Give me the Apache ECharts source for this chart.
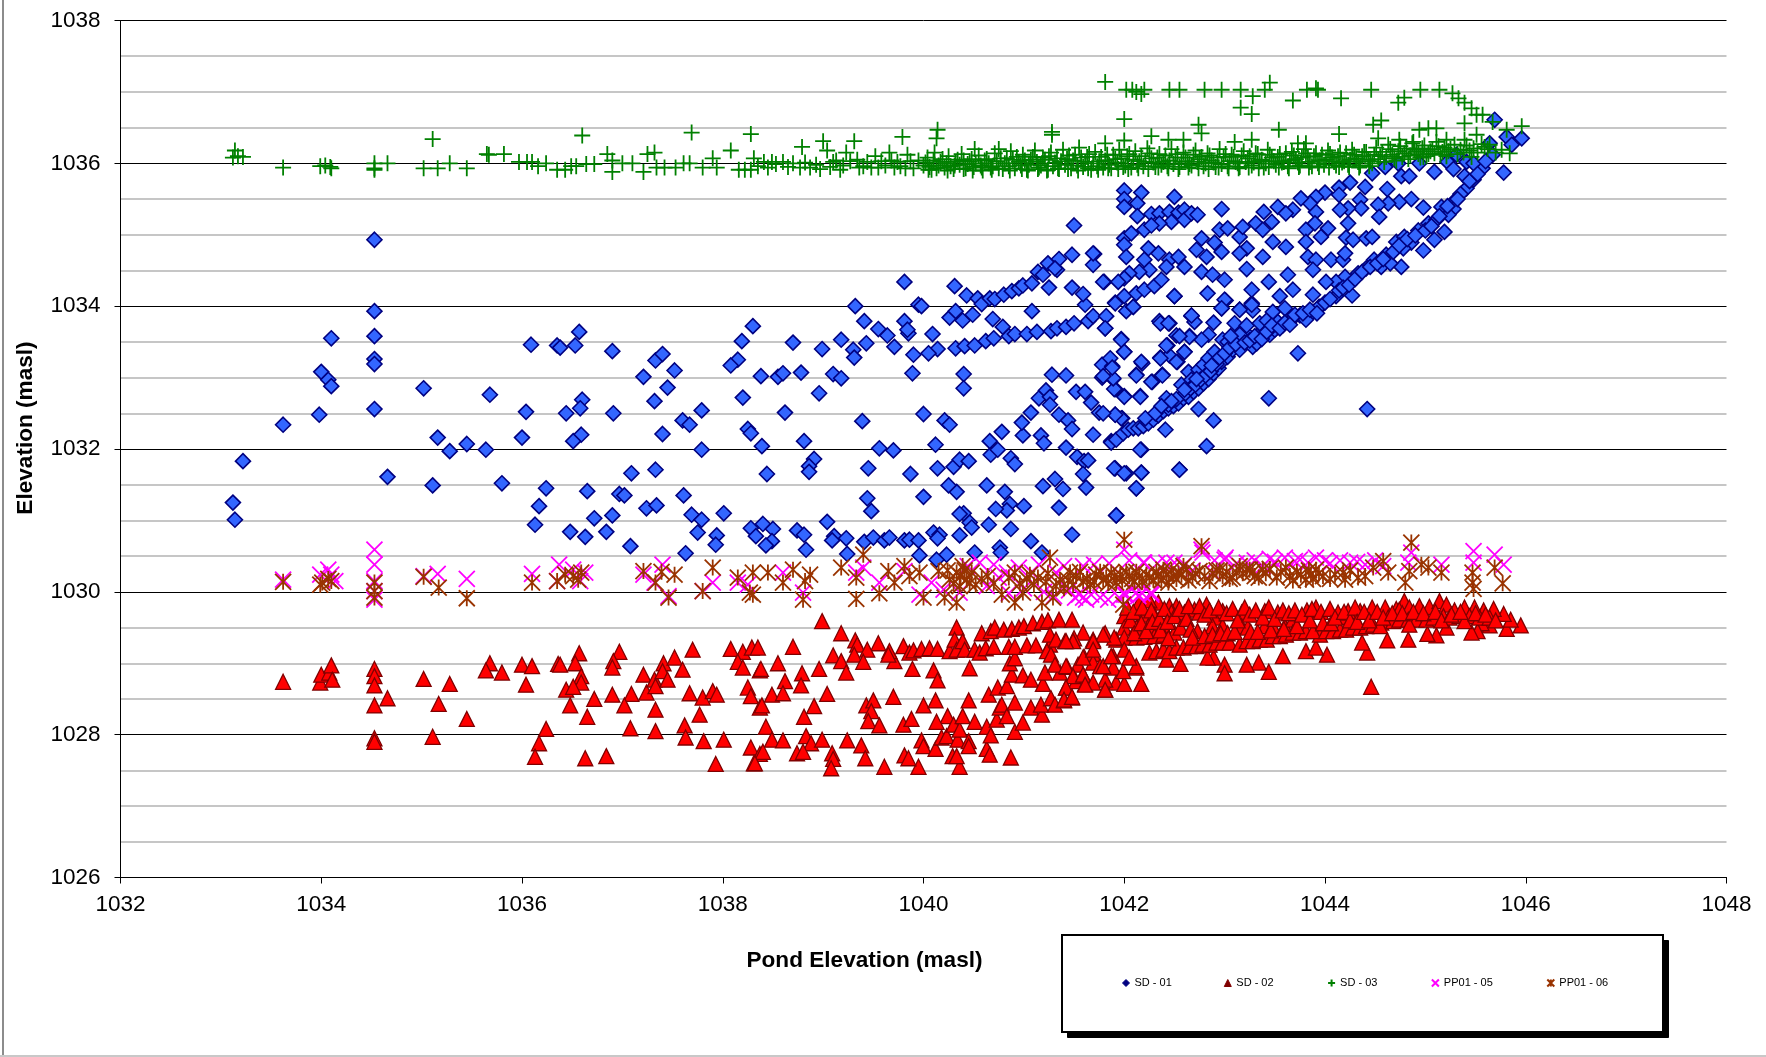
<!DOCTYPE html>
<html><head><meta charset="utf-8">
<style>html,body{margin:0;padding:0;background:#fff}#c{width:1766px;height:1057px}</style>
<script src="https://cdn.jsdelivr.net/npm/echarts@6/dist/echarts.min.js"></script>
</head><body><div id="c"></div>
<script>
const sd01 = [[1034.53,1034.93],[1034.53,1033.93],[1034.10,1033.55],[1034.53,1033.58],[1034.53,1033.26],[1034.53,1033.19],[1034.00,1033.08],[1034.07,1032.97],[1034.10,1032.88],[1035.02,1032.85],[1035.68,1032.76],[1034.53,1032.56],[1033.98,1032.48],[1033.62,1032.34],[1036.04,1032.52],[1035.16,1032.16],[1035.28,1031.97],[1035.45,1032.07],[1035.64,1031.99],[1036.00,1032.16],[1033.22,1031.83],[1034.66,1031.61],[1035.11,1031.49],[1035.80,1031.52],[1033.12,1031.25],[1033.14,1031.01],[1036.09,1033.46],[1036.35,1033.45],[1036.38,1033.42],[1036.53,1033.45],[1036.57,1033.64],[1036.90,1033.37],[1037.21,1033.01],[1037.33,1033.24],[1037.40,1033.33],[1037.52,1033.10],[1037.45,1032.86],[1037.32,1032.67],[1036.60,1032.69],[1036.58,1032.57],[1036.44,1032.50],[1036.91,1032.50],[1036.59,1032.20],[1036.51,1032.11],[1037.60,1032.40],[1037.67,1032.34],[1037.40,1032.21],[1037.79,1032.54],[1037.79,1031.99],[1037.09,1031.66],[1037.33,1031.71],[1036.24,1031.45],[1036.65,1031.41],[1036.97,1031.37],[1037.02,1031.35],[1036.17,1031.20],[1036.13,1030.94],[1037.24,1031.17],[1037.34,1031.21],[1037.61,1031.35],[1036.90,1031.07],[1036.72,1031.03],[1037.69,1031.08],[1037.79,1031.01],[1036.48,1030.84],[1036.63,1030.77],[1036.84,1030.84],[1037.75,1030.83],[1037.08,1030.64],[1037.63,1030.54],
[1038.30,1033.72],[1038.19,1033.51],[1038.15,1033.25],[1038.08,1033.17],[1038.38,1033.02],[1038.55,1033.01],[1038.60,1033.06],[1038.78,1033.07],[1038.70,1033.49],[1038.99,1033.40],[1039.18,1033.53],[1039.30,1033.39],[1039.31,1033.28],[1039.10,1033.05],[1039.18,1032.99],[1038.96,1032.78],[1038.20,1032.72],[1038.62,1032.51],[1038.25,1032.28],[1038.28,1032.22],[1038.39,1032.04],[1038.81,1032.11],[1038.91,1031.86],[1038.86,1031.76],[1038.86,1031.68],[1038.44,1031.65],[1038.01,1031.10],[1037.94,1030.79],[1037.93,1030.66],[1038.28,1030.89],[1038.33,1030.78],[1038.40,1030.95],[1038.50,1030.88],[1038.49,1030.71],[1038.43,1030.65],[1038.74,1030.86],[1038.81,1030.80],[1038.83,1030.59],[1039.04,1030.98],[1039.11,1030.78],[1039.09,1030.72],[1039.23,1030.75],[1039.24,1030.53],[1039.41,1030.70],[1039.50,1030.76],[1039.61,1030.72],[1039.66,1030.76],[1039.81,1030.72],[1039.86,1030.73],[1039.95,1030.72],[1040.10,1030.83],[1040.16,1030.80],[1040.14,1030.75],[1040.36,1030.79],[1040.46,1030.97],[1040.48,1030.90],[1040.40,1031.10],[1040.36,1031.09],[1040.65,1030.94],[1040.87,1030.88],[1041.07,1030.71],[1040.76,1030.62],[1040.77,1030.55],[1040.51,1030.55],[1040.23,1030.52],[1039.96,1030.51],[1040.13,1030.45],[1041.18,1030.55],[1041.48,1030.80],[1041.92,1031.07],[1041.35,1031.18],[1041.00,1031.20],[1040.86,1031.23],[1040.83,1031.14],[1040.72,1031.16],[1040.81,1031.40],[1040.63,1031.49],[1040.33,1031.40],[1040.25,1031.49],[1040.00,1031.33],[1039.87,1031.65],[1039.45,1031.73],[1039.44,1031.31],[1039.48,1031.13],[1039.56,1032.01],[1039.70,1031.98],[1039.39,1032.39],[1040.00,1032.49],[1040.21,1032.40],[1040.26,1032.34],[1040.12,1032.06],[1040.14,1031.73],[1040.30,1031.75],[1040.36,1031.85],[1040.45,1031.83],[1040.67,1031.92],[1040.74,1031.99],[1040.66,1032.11],[1040.78,1032.24],[1040.99,1032.19],[1040.98,1032.37],[1041.07,1032.51],[1041.15,1032.71],[1041.22,1032.82],[1041.26,1032.73],[1041.26,1032.62],[1041.35,1032.48],[1041.44,1032.40],[1041.48,1032.28],[1041.17,1032.19],[1041.20,1032.08],[1041.42,1032.02],[1041.53,1031.89],[1041.60,1031.83],[1041.64,1031.84],[1041.59,1031.65],[1041.62,1031.46],[1041.31,1031.58],[1041.39,1031.44],[1041.19,1031.48],[1040.87,1031.87],[1040.91,1031.79],[1041.69,1032.20],[1041.28,1033.04],[1041.42,1033.03],[1041.52,1032.80],[1041.61,1032.80],[1041.67,1032.65],[1041.75,1032.51],[1041.91,1032.48],[1041.98,1032.43],[1041.91,1031.73],[1042.02,1031.66],[1042.17,1031.67],[1042.12,1031.45],[1042.17,1031.99],[1042.55,1031.71],[1041.87,1032.11],[1042.00,1032.74],[1042.16,1032.74],[1041.91,1032.84],[1042.28,1032.94],[1042.38,1033.04],[1042.12,1033.04],[1041.89,1032.98],[1041.78,1033.00],[1041.78,1033.18],[1041.88,1033.16],[1041.86,1033.27],[1042.18,1033.20],[1042.36,1033.28],[1042.53,1033.22],[1042.60,1033.36],[1042.45,1033.31],[1042.43,1033.45],[1041.97,1033.54],[1042.00,1033.36],[1041.81,1033.69],[1041.64,1033.79],[1041.69,1033.86],[1041.82,1033.86],[1041.61,1034.02],[1041.59,1034.17],[1041.48,1034.26],[1041.25,1034.26],[1041.80,1034.34],[1041.91,1034.05],[1042.02,1033.93],[1042.09,1033.99],[1042.50,1034.14],[1042.35,1033.79],[1042.45,1033.76],[1042.67,1033.86],[1042.52,1033.59],[1042.65,1033.58],
[1040.31,1034.28],[1040.43,1034.15],[1040.54,1034.11],[1040.58,1034.03],[1040.66,1034.11],[1040.71,1034.10],[1040.80,1034.16],[1040.88,1034.21],[1040.95,1034.25],[1040.99,1034.29],[1041.08,1034.32],[1041.14,1034.48],[1041.19,1034.44],[1041.24,1034.60],[1041.33,1034.51],[1041.35,1034.66],[1041.48,1034.72],[1041.70,1034.73],[1041.69,1034.58],[1041.50,1035.13],[1040.32,1033.41],[1040.41,1033.44],[1040.51,1033.45],[1040.62,1033.51],[1040.70,1033.55],[1040.79,1033.71],[1040.85,1033.58],[1040.91,1033.61],[1041.03,1033.61],[1041.13,1033.64],[1041.27,1033.65],[1041.33,1033.69],[1041.42,1033.71],[1041.50,1033.76],[1040.69,1033.82],[1041.08,1033.93],[1040.26,1033.84],[1040.32,1033.93],[1040.39,1033.80],[1040.49,1033.88],[1039.81,1034.34],[1039.95,1034.02],[1039.98,1034.00],[1039.32,1034.00],[1039.41,1033.79],[1039.55,1033.68],[1039.64,1033.59],[1039.43,1033.48],[1039.71,1033.43],[1039.81,1033.79],[1039.85,1033.62],[1039.84,1033.67],[1040.09,1033.61],[1040.14,1033.40],[1040.05,1033.34],[1039.90,1033.32],[1039.89,1033.06],[1040.40,1033.05],[1040.40,1032.85],
[1041.87,1032.09],[1041.92,1032.13],[1041.99,1032.22],[1042.04,1032.27],[1042.09,1032.29],[1042.14,1032.29],[1042.19,1032.32],[1042.24,1032.36],[1042.29,1032.41],[1042.34,1032.47],[1042.39,1032.53],[1042.44,1032.57],[1042.49,1032.60],[1042.54,1032.64],[1042.59,1032.71],[1042.64,1032.73],[1042.69,1032.80],[1042.74,1032.85],[1042.79,1032.92],[1042.84,1032.98],[1042.89,1033.06],[1042.94,1033.13],[1042.97,1033.22],[1043.03,1033.29],[1043.08,1033.39],[1043.15,1033.39],[1043.18,1033.53],[1043.23,1033.60],[1043.28,1033.43],[1043.32,1033.48],[1043.35,1033.62],[1043.40,1033.69],[1043.45,1033.60],[1043.50,1033.67],[1043.53,1033.78],[1043.58,1033.73],[1043.63,1033.80],[1043.68,1033.83],[1043.75,1033.87],[1043.81,1033.83],[1043.88,1033.92],[1043.95,1033.99],[1042.57,1032.90],[1042.64,1033.08],[1042.67,1032.97],[1042.74,1033.11],[1042.79,1033.18],[1042.84,1033.27],[1042.90,1033.36],[1042.98,1033.53],[1043.03,1033.50],[1043.10,1033.76],[1043.15,1033.60],[1043.22,1033.73],[1043.35,1033.76],[1043.42,1033.80],[1043.48,1033.92],[1043.60,1033.97],[1043.73,1033.34],[1043.44,1032.71],[1044.42,1032.56],[1042.74,1032.56],[1042.89,1032.40],[1042.82,1032.04],[1042.55,1031.71],[1042.89,1033.77],[1042.70,1033.78],[1042.67,1033.87],[1043.15,1033.95],[1043.28,1033.94],[1042.97,1033.97],[1043.01,1034.08],[1043.27,1034.04],[1042.84,1033.60],[1042.77,1033.53],[1042.65,1033.57],[1042.55,1033.58],[1042.60,1033.36],[1042.52,1033.22],[1042.36,1033.27],[1042.42,1033.45],[1042.27,1032.94],[1042.38,1033.03],[1042.17,1033.22],[1042.12,1033.03],[1042.16,1032.73],[1042.00,1032.73],[1042.42,1032.71],[1042.41,1032.27],[1042.16,1031.99],[1042.17,1031.67],[1041.90,1031.73],[1042.00,1031.66],[1042.12,1031.45],[1041.92,1031.07],[1041.97,1032.43],[1041.91,1032.48],[1041.79,1032.50],[1041.90,1032.84],[1041.89,1032.99],[1041.79,1033.02],[1041.88,1033.14],[1042.00,1033.36],[1041.97,1033.53],[1041.81,1033.69],[1042.36,1033.76],[1042.44,1033.76],
[1045.69,1036.61],[1045.81,1036.37],[1045.96,1036.35],[1045.86,1036.26],[1045.78,1035.87],[1045.64,1036.28],[1045.67,1036.12],[1045.57,1035.93],[1045.48,1035.77],[1045.39,1035.82],[1045.41,1035.65],[1045.35,1035.57],[1045.28,1035.46],[1045.28,1035.36],[1045.23,1035.28],[1045.19,1035.04],[1045.09,1034.93],[1044.98,1034.78],[1044.93,1035.06],[1044.86,1034.89],[1044.76,1034.55],[1044.61,1034.72],[1044.56,1034.55],[1044.49,1034.65],[1044.41,1034.53],[1044.33,1034.46],[1044.27,1034.15],[1044.20,1034.41],[1044.11,1034.34],[1044.11,1034.14],[1044.01,1034.34],[1043.94,1033.99],[1043.88,1034.16],[1043.81,1033.81],[1044.71,1034.90],[1044.79,1034.97],[1044.78,1034.81],[1044.65,1034.60],[1045.03,1035.16],[1045.11,1035.21],[1045.16,1035.39],[1044.98,1035.38],[1044.86,1035.50],[1044.74,1035.46],[1044.63,1035.44],[1044.53,1035.42],[1044.54,1035.25],[1044.62,1035.64],[1044.40,1035.67],[1044.35,1035.49],[1044.36,1035.37],[1044.23,1035.37],[1044.15,1035.35],[1044.23,1035.16],[1044.21,1034.96],[1044.28,1034.93],[1044.41,1034.95],[1044.47,1034.97],[1044.25,1035.73],[1044.14,1035.66],[1044.14,1035.56],[1044.00,1035.59],[1043.91,1035.53],[1043.91,1035.32],[1043.85,1035.44],[1043.68,1035.35],[1043.76,1035.51],[1043.53,1035.39],[1043.39,1035.32],[1043.31,1035.16],[1043.15,1034.97],[1042.95,1035.07],[1043.03,1035.09],[1043.18,1035.11],[1043.38,1035.07],[1043.47,1035.18],[1043.61,1035.30],[1043.81,1035.07],[1043.90,1035.16],[1044.03,1035.09],[1043.96,1034.97],[1043.81,1034.90],[1043.61,1034.83],[1043.48,1034.90],[1043.38,1034.69],[1043.22,1034.81],[1043.15,1034.74],[1042.97,1034.76],[1042.82,1034.69],[1042.72,1034.79],[1042.77,1034.95],[1042.90,1034.89],[1042.60,1034.55],[1042.45,1034.65],[1042.54,1034.69],[1042.34,1034.74],[1042.42,1034.55],[1042.24,1034.81],[1042.20,1035.07],[1042.00,1034.95],[1042.07,1035.02],[1042.00,1034.86],[1042.02,1034.69],[1042.20,1034.65],[1042.25,1034.51],[1042.15,1034.48],[1042.05,1034.46],[1042.00,1034.39],[1041.94,1034.34],[1041.79,1034.34],[1041.69,1034.74],[1041.31,1034.53],[1042.00,1035.62],[1042.00,1035.50],[1042.00,1035.39],[1042.17,1035.59],[1042.13,1035.44],[1042.13,1035.26],[1042.27,1035.29],[1042.35,1035.30],[1042.45,1035.32],[1042.50,1035.53],[1042.47,1035.18],[1042.35,1035.16],[1042.27,1035.13],[1042.54,1035.31],[1042.60,1035.35],[1042.60,1035.21],[1042.67,1035.30],[1042.73,1035.28],[1042.97,1035.36],[1042.00,1034.14],[1041.91,1034.04],[1042.09,1033.99],[1042.12,1034.18],[1042.20,1034.23],[1042.30,1034.28],[1042.37,1034.37],[1042.50,1034.14],[1042.83,1034.18],[1043.00,1034.09],[1042.97,1033.97],[1042.77,1034.48],[1042.88,1034.44],[1043.00,1034.37],[1043.27,1034.23],[1043.44,1034.34],[1043.63,1034.44],[1043.68,1034.23],[1043.55,1034.14],[1043.22,1034.52],[1043.15,1033.95],[1043.27,1034.02],[1043.83,1034.69],[1043.91,1034.65],[1043.88,1034.51],[1044.06,1034.65],[1044.18,1034.65],[1044.20,1034.74],[1045.31,1036.12],[1045.41,1036.02],[1045.22,1036.02],[1045.28,1035.92],[1045.09,1035.88],[1044.94,1036.00],[1044.73,1036.00],[1044.76,1035.82],[1044.84,1035.82],[1044.60,1035.95],[1044.47,1035.86],[1045.48,1036.00],
[1042.44,1032.62],[1042.52,1032.70],[1042.61,1032.78],[1042.66,1032.85],[1042.71,1032.90],[1042.76,1032.97],[1042.81,1033.03],[1042.86,1033.09],[1042.92,1033.19],[1042.95,1033.28],[1043.00,1033.34],[1043.05,1033.42],[1043.11,1033.47],[1043.20,1033.49],[1043.25,1033.52],[1043.30,1033.58],[1043.37,1033.54],[1043.42,1033.64],[1043.47,1033.73],[1043.55,1033.69],[1043.60,1033.77],[1043.65,1033.74],[1043.70,1033.88],[1043.78,1033.90],[1043.85,1033.95],[1043.92,1033.90],[1044.00,1034.05],[1044.05,1034.10],[1044.14,1034.22],[1044.18,1034.26],[1044.24,1034.30],[1044.30,1034.38],[1044.37,1034.48],[1044.45,1034.55],[1044.52,1034.60],[1044.58,1034.66],[1044.68,1034.76],[1044.74,1034.85],[1044.82,1034.94],[1044.90,1034.99],[1045.00,1035.06],[1045.06,1035.12],[1045.14,1035.26],[1045.22,1035.40],[1045.32,1035.50],[1045.44,1035.75],[1045.52,1035.85],[1045.60,1036.03],[1042.21,1032.43],[1042.31,1032.50],[1042.37,1032.60],[1042.47,1032.67],[1042.60,1032.83],[1042.72,1032.98],[1042.87,1033.17],[1043.06,1033.58]];
const sd02 = [[1033.62,1028.74],[1033.99,1028.73],[1034.00,1028.84],[1034.08,1028.87],[1034.10,1028.97],[1034.11,1028.77],[1034.53,1028.92],[1034.53,1028.82],[1034.53,1028.69],[1034.66,1028.51],[1034.53,1028.41],[1034.53,1027.95],[1034.53,1027.90],[1035.02,1028.78],[1035.28,1028.71],[1035.17,1028.43],[1035.45,1028.22],[1035.11,1027.97],[1035.68,1029.00],[1035.64,1028.90],[1035.80,1028.87],[1036.00,1028.98],[1036.10,1028.96],[1036.04,1028.70],[1036.36,1028.99],[1036.38,1028.98],[1036.57,1029.14],[1036.53,1029.00],[1036.59,1028.82],[1036.59,1028.73],[1036.44,1028.63],[1036.51,1028.67],[1036.48,1028.41],[1036.72,1028.50],[1036.65,1028.25],[1036.24,1028.08],[1036.17,1027.88],[1036.13,1027.69],[1036.63,1027.67],[1036.84,1027.70],[1036.97,1029.16],[1036.91,1029.03],[1036.90,1028.94],[1036.90,1028.56],[1037.09,1028.57],[1037.02,1028.41],[1037.08,1028.09],[1037.24,1028.59],[1037.33,1028.35],[1037.33,1028.05],[1037.21,1028.84],[1037.32,1028.77],[1037.33,1028.68],[1037.41,1029.00],[1037.40,1028.89],[1037.45,1028.77],[1037.52,1029.08],[1037.60,1028.91],[1037.70,1029.19],[1037.67,1028.58],[1037.80,1028.52],[1037.90,1028.61],[1037.94,1028.56],[1037.77,1028.28],[1037.62,1028.13],[1037.63,1027.96],[1037.81,1027.91],[1038.01,1027.93],[1037.93,1027.59],[1038.08,1029.20],[1038.20,1029.16],[1038.15,1029.02],[1038.20,1028.94],[1038.29,1029.22],[1038.35,1029.22],[1038.37,1028.90],[1038.25,1028.66],[1038.28,1028.54],[1038.37,1028.38],[1038.28,1027.82],[1038.31,1027.60],[1038.37,1027.73],
[1038.99,1029.59],[1039.18,1029.42],[1038.70,1029.23],[1039.32,1029.32],[1039.34,1029.26],[1039.55,1029.28],[1039.44,1029.19],[1039.31,1029.12],[1039.10,1029.11],[1039.18,1029.03],[1039.40,1029.02],[1039.23,1028.87],[1038.96,1028.92],[1038.79,1028.86],[1038.55,1029.00],[1038.38,1028.92],[1038.62,1028.75],[1038.78,1028.69],[1038.49,1028.56],[1038.60,1028.58],[1039.04,1028.57],[1038.39,1028.41],[1038.91,1028.40],[1038.81,1028.25],[1038.43,1028.11],[1038.49,1027.93],[1038.60,1027.92],[1038.83,1027.98],[1038.88,1027.88],[1038.99,1027.93],[1039.24,1027.92],[1039.38,1027.85],[1038.74,1027.74],[1038.80,1027.76],[1038.40,1027.76],[1038.32,1027.60],[1039.09,1027.74],[1039.10,1027.66],[1039.08,1027.53],[1039.42,1027.67],[1039.61,1027.55],[1039.95,1027.55],[1040.36,1027.55],[1039.43,1028.41],[1039.50,1028.48],[1039.48,1028.33],[1039.45,1028.19],[1039.56,1028.13],[1039.70,1028.53],[1039.80,1028.14],[1039.88,1028.22],[1040.00,1028.41],[1040.12,1028.48],[1040.24,1028.26],[1040.13,1028.18],[1039.98,1027.92],[1040.00,1027.84],[1040.12,1027.80],[1040.18,1027.96],[1040.23,1027.98],[1040.30,1028.14],[1040.34,1027.93],[1040.36,1028.07],[1040.39,1028.26],[1040.45,1028.48],[1040.45,1027.91],[1040.45,1027.84],[1040.51,1028.18],[1039.81,1027.71],[1039.85,1027.67],[1040.29,1027.70],[1040.33,1027.70],[1040.63,1027.80],[1040.66,1027.72],[1040.87,1027.68],[1040.63,1028.11],[1040.67,1027.99],[1040.73,1028.21],[1040.76,1028.38],[1040.78,1028.42],[1040.83,1028.26],[1040.91,1028.04],[1040.99,1028.17],[1040.91,1028.45],[1041.07,1028.38],[1041.18,1028.28],[1041.17,1028.42],[1041.27,1028.51],[1041.31,1028.42],[1041.40,1028.48],[1041.48,1028.52],[1040.65,1028.56],[1040.74,1028.66],[1040.83,1028.68],[1040.88,1028.84],[1040.99,1028.83],[1041.07,1028.77],[1041.19,1028.71],[1041.21,1028.87],[1041.36,1028.87],[1041.43,1028.95],[1041.42,1028.66],[1041.52,1028.75],[1041.61,1028.71],[1041.59,1028.84],[1041.81,1028.63],[1041.92,1028.73],[1042.00,1028.71],[1042.17,1028.71],[1041.81,1028.77],[1040.86,1029.00],[1040.91,1029.07],[1040.46,1028.93],[1040.10,1028.90],[1040.14,1028.76],[1039.89,1028.92],[1039.71,1029.03],[1039.66,1029.17],[1039.65,1029.12],[1039.80,1029.24],[1039.86,1029.15],[1039.90,1029.18],[1039.98,1029.20],[1040.06,1029.21],[1040.14,1029.20],[1040.26,1029.17],[1040.33,1029.50],[1040.31,1029.33],[1040.33,1029.19],[1040.39,1029.31],[1040.41,1029.19],[1040.51,1029.19],[1040.56,1029.15],[1040.62,1029.21],[1040.70,1029.23],[1040.85,1029.23],[1040.91,1029.23],[1041.03,1029.25],[1041.12,1029.25],[1041.26,1029.26],[1041.23,1029.17],[1041.27,1029.12],[1040.58,1029.42],[1040.67,1029.45],[1040.71,1029.50],[1040.80,1029.47],[1040.88,1029.48],[1040.95,1029.50],[1041.00,1029.52],[1041.09,1029.56],[1041.18,1029.58],[1041.24,1029.60],[1041.35,1029.61],[1041.48,1029.61],[1041.59,1029.43],[1041.26,1029.40],[1041.32,1029.33],[1041.41,1029.31],[1041.50,1029.35],[1041.69,1029.33],[1041.81,1029.42],[1041.60,1029.09],[1041.69,1029.13],[1041.69,1029.01],[1041.76,1028.96],[1041.31,1028.98],[1041.54,1028.98],[1041.89,1029.10],[1041.89,1028.94],[1041.99,1028.89],[1042.12,1028.94],[1041.92,1029.33],[1042.00,1029.66],[1042.00,1029.50],[1042.00,1029.36],[1042.00,1029.19],
[1044.46,1028.67],[1045.95,1029.53],[1045.81,1029.48],[1045.85,1029.61],[1045.78,1029.69],[1045.68,1029.76],[1045.58,1029.74],[1045.64,1029.53],[1045.56,1029.56],[1045.52,1029.45],[1045.46,1029.43],[1045.49,1029.78],[1045.39,1029.78],[1045.21,1029.50],[1045.11,1029.39],[1045.02,1029.41],[1044.83,1029.33],[1044.62,1029.32],[1044.42,1029.15],[1044.02,1029.12],[1044.37,1029.29],[1043.44,1028.88],[1043.34,1029.01],[1043.22,1028.98],[1043.00,1028.98],[1043.00,1028.86],[1042.56,1028.99],[1041.81,1028.63],[1043.58,1029.10],[1043.81,1029.17],[1043.91,1029.22],[1042.89,1029.08],[1042.83,1029.08],[1042.42,1029.05],[1044.79,1029.87],[1044.84,1029.78],[1044.93,1029.68],[1044.94,1029.80],[1045.04,1029.79],[1045.14,1029.87],[1045.21,1029.82],[1045.29,1029.74],[1045.18,1029.66],[1044.71,1029.76],[1044.60,1029.78],[1044.63,1029.64],[1044.56,1029.57],[1044.47,1029.78],[1044.35,1029.73],[1044.23,1029.73],[1044.16,1029.65],[1044.13,1029.71],[1043.91,1029.78],[1043.82,1029.74],[1043.53,1029.71],[1043.40,1029.73],[1043.17,1029.71],[1042.98,1029.73],[1042.90,1029.64],[1042.82,1029.82],[1042.70,1029.75],[1042.60,1029.71],[1042.52,1029.80],[1042.45,1029.80],[1042.34,1029.85],[1042.25,1029.88],[1042.15,1029.85],[1042.20,1029.68],[1042.30,1029.68],[1042.47,1029.71],[1042.12,1029.50],[1042.24,1029.52],[1042.39,1029.52],[1042.50,1029.43],[1041.90,1029.36],[1042.12,1029.36],[1042.20,1029.37],[1042.30,1029.38],[1042.39,1029.40],[1042.73,1029.45],[1043.17,1029.52],[1043.23,1029.50],[1043.40,1029.52],[1043.48,1029.52],[1043.60,1029.52],[1043.68,1029.61],[1043.95,1029.40],[1042.12,1028.96],[1042.05,1029.08],[1042.25,1029.15],[1042.32,1029.17],[1042.39,1029.19],[1042.45,1029.17],[1042.52,1029.22],[1042.59,1029.22],[1042.65,1029.24],[1042.72,1029.24],[1042.78,1029.26],[1042.85,1029.26],[1042.92,1029.29],[1042.98,1029.29],[1043.05,1029.29],[1043.15,1029.26],[1043.22,1029.31],[1043.28,1029.31],[1043.35,1029.33],[1043.42,1029.33],[1043.48,1029.38],[1043.55,1029.38],[1043.61,1029.40],[1043.68,1029.43],[1043.75,1029.43],[1043.81,1029.45],[1043.88,1029.45],[1044.01,1029.45],[1044.08,1029.45],[1044.15,1029.47],[1044.21,1029.47],[1044.28,1029.50],[1044.35,1029.50],[1044.41,1029.52],[1044.48,1029.54],[1044.55,1029.52],[1044.68,1029.59],[1044.74,1029.61],[1044.83,1029.61],[1044.91,1029.61],[1045.01,1029.61],[1045.08,1029.64],[1045.24,1029.64],[1045.34,1029.66],[1045.44,1029.66],[1045.54,1029.64],[1045.64,1029.64],[1041.79,1029.40],[1041.69,1029.31],[1041.49,1029.31],[1041.42,1029.31],[1041.79,1028.96],[1041.87,1029.10],[1041.59,1029.08],[1041.69,1029.19],[1041.42,1028.96],[1041.49,1028.82],[1041.59,1028.84],[1041.69,1028.73],[1041.61,1028.70],[1041.42,1028.66],[1041.40,1028.49],[1041.48,1028.53],[1045.39,1029.59],[1044.84,1029.54],[1044.74,1029.75],[1042.88,1029.52],[1042.75,1029.71],[1042.98,1029.52],
[1042.03,1029.78],[1042.06,1029.60],[1042.09,1029.72],[1042.10,1029.42],[1042.18,1029.78],[1042.17,1029.56],[1042.22,1029.45],[1042.27,1029.74],[1042.28,1029.58],[1042.35,1029.62],[1042.36,1029.46],[1042.40,1029.76],[1042.43,1029.58],[1042.44,1029.35],[1042.50,1029.66],[1042.55,1029.76],[1042.56,1029.50],[1042.62,1029.62],[1042.64,1029.80],[1042.66,1029.47],[1042.68,1029.36],[1042.75,1029.80],[1042.80,1029.68],[1042.80,1029.38],[1042.85,1029.74],[1042.88,1029.40],[1042.94,1029.78],[1042.96,1029.42],[1043.02,1029.70],[1043.03,1029.42],[1043.08,1029.76],[1043.10,1029.44],[1043.13,1029.60],[1043.20,1029.78],[1043.25,1029.68],[1043.26,1029.44],[1043.31,1029.74],[1043.33,1029.44],[1043.38,1029.64],[1043.44,1029.78],[1043.46,1029.46],[1043.50,1029.62],[1043.58,1029.74],[1043.59,1029.48],[1043.64,1029.70],[1043.70,1029.74],[1043.72,1029.52],[1043.77,1029.68],[1043.85,1029.60],[1043.87,1029.76],[1043.96,1029.72],[1043.98,1029.56],[1044.05,1029.76],[1044.06,1029.56],[1044.10,1029.64],[1044.19,1029.72],[1044.25,1029.60],[1044.30,1029.78],[1044.32,1029.58],[1044.39,1029.72],[1044.44,1029.60],[1044.52,1029.72],[1044.58,1029.64],[1044.67,1029.70],[1044.77,1029.70],[1044.88,1029.72],[1044.98,1029.70],[1045.10,1029.72],[1045.16,1029.60],[1045.26,1029.68],[1045.35,1029.72],[1045.50,1029.70],[1045.60,1029.68],[1045.70,1029.60]];
const sd03 = [[1033.14,1036.18],[1033.12,1036.08],[1033.17,1036.10],[1033.22,1036.09],[1033.62,1035.94],[1033.99,1035.96],[1034.04,1035.97],[1034.09,1035.95],[1034.10,1035.93],[1034.53,1036.00],[1034.53,1035.93],[1034.53,1035.91],[1034.66,1036.00],[1035.02,1035.93],[1035.16,1035.93],[1035.11,1036.34],[1035.28,1036.00],[1035.45,1035.93],[1035.65,1036.13],[1035.67,1036.12],[1035.82,1036.13],[1035.97,1036.02],[1036.05,1036.02],[1036.10,1036.02],[1036.16,1035.96],[1036.24,1036.00],[1036.35,1035.91],[1036.43,1035.91],[1036.49,1035.96],[1036.54,1035.96],[1036.60,1036.39],[1036.64,1035.99],[1036.72,1035.99],[1036.85,1036.13],[1036.90,1036.04],[1036.90,1035.88],[1037.00,1036.00],[1037.10,1036.00],[1037.21,1035.88],[1037.25,1036.13],[1037.32,1036.15],[1037.34,1035.94],[1037.42,1035.94],[1037.53,1035.94],[1037.61,1036.00],[1037.67,1036.00],[1037.69,1036.43],[1037.80,1035.94],[1037.90,1036.07],[1037.94,1035.94],[1038.08,1036.18],[1038.16,1035.91],[1038.22,1035.91],[1038.28,1036.41],[1038.28,1035.91],[1038.31,1036.07],[1038.41,1036.02],[1038.49,1036.02],[1038.60,1036.02],[1038.79,1036.23],[1038.77,1035.94],[1038.87,1035.94],[1039.00,1036.31],[1039.04,1036.18],[1039.10,1036.02],[1039.17,1035.91],[1039.23,1036.15],[1039.31,1036.31],[1039.36,1035.94],[1039.44,1036.02],[1039.52,1036.10],[1039.55,1035.94],[1039.66,1036.15],[1039.71,1035.94],[1039.79,1036.37],[1039.84,1036.12],[1040.14,1036.47],[1040.13,1036.35],[1040.11,1036.15],[1040.51,1036.20],[1040.75,1036.20],[1041.28,1036.44],
[1038.35,1035.96],[1038.45,1035.94],[1038.53,1035.99],[1038.65,1035.95],[1038.70,1036.00],[1038.82,1036.01],[1038.93,1035.98],[1038.97,1035.92],[1039.07,1035.95],[1039.13,1036.04],[1039.20,1035.97],[1039.27,1036.03],[1039.34,1036.05],[1039.40,1035.96],[1039.48,1035.94],[1039.58,1036.03],[1039.62,1035.97],[1039.68,1036.04],[1039.74,1036.02],[1039.77,1035.96],[1039.82,1035.93],[1039.87,1036.03],
[1039.90,1035.93],[1039.95,1036.04],[1040.00,1035.97],[1040.04,1036.08],[1040.08,1035.91],[1040.17,1036.02],[1040.21,1035.94],[1040.25,1036.10],[1040.30,1035.92],[1040.34,1036.05],[1040.38,1036.13],[1040.42,1035.93],[1040.46,1036.03],[1040.50,1035.95],[1040.55,1036.11],[1040.59,1035.90],[1040.63,1036.06],[1040.67,1035.94],[1040.71,1036.14],[1040.79,1035.92],[1040.83,1036.07],[1040.87,1036.17],[1040.91,1035.93],[1040.95,1036.02],[1040.99,1036.12],[1041.03,1035.91],[1041.07,1036.05],[1041.11,1036.18],[1041.15,1035.94],[1041.19,1036.08],[1041.23,1035.90],[1041.27,1036.15],[1041.31,1036.01],[1041.35,1035.92],[1041.39,1036.19],[1041.43,1036.06],[1041.47,1035.93],[1041.51,1036.12],[1041.55,1036.22],[1041.59,1035.95],[1041.63,1036.09],[1041.67,1035.91],[1041.71,1036.16],[1041.75,1036.03],[1041.79,1035.94],[1041.83,1036.12],[1041.87,1035.93],[1041.91,1036.06],[1041.95,1036.19],[1041.99,1035.95],[1042.03,1036.10],[1042.07,1035.94],[1042.11,1036.17],[1042.15,1036.03],[1042.19,1035.96],[1042.23,1036.21],[1042.27,1036.07],[1042.31,1035.95],[1042.35,1036.13],[1042.39,1036.02],[1042.43,1035.96],[1042.47,1036.20],[1042.51,1036.08],[1042.55,1035.95],[1042.59,1036.15],[1042.63,1036.03],[1042.67,1035.97],[1042.71,1036.18],[1042.75,1036.06],[1042.79,1035.96],[1042.83,1036.14],[1042.87,1036.04],[1042.91,1035.95],[1042.95,1036.20],[1042.99,1036.09],[1043.03,1035.96],[1043.07,1036.12],[1043.11,1036.02],[1043.15,1035.95],[1043.19,1036.17],[1043.23,1036.07],[1043.27,1035.97],[1043.31,1036.14],[1043.35,1036.03],[1043.39,1035.94],[1043.43,1036.19],[1043.47,1036.08],[1043.51,1035.98],[1043.55,1036.13],[1043.59,1036.02],[1043.63,1035.96],[1043.67,1036.16],[1043.71,1036.06],[1043.75,1035.97],[1043.79,1036.20],[1043.83,1036.09],[1043.87,1035.96],[1043.91,1036.14],[1043.95,1036.04],[1043.99,1035.98],[1044.03,1036.18],[1044.07,1036.08],[1044.11,1035.97],[1044.15,1036.15],[1044.19,1036.03],[1044.23,1035.98],[1044.27,1036.19],[1044.31,1036.07],[1044.35,1035.97],[1044.39,1036.16],[1044.43,1036.05],[1044.47,1036.00],[1044.51,1036.22],[1044.55,1036.10],[1044.59,1036.02],[1044.63,1036.26],[1044.67,1036.12],[1044.71,1036.04],[1044.75,1036.24],[1044.79,1036.14],[1044.83,1036.06],[1044.87,1036.28],[1044.91,1036.16],[1044.95,1036.08],[1044.99,1036.25],[1045.03,1036.13],[1045.07,1036.20],[1045.11,1036.30],[1045.15,1036.12],[1045.19,1036.22],[1045.23,1036.17],[1045.29,1036.26],[1045.35,1036.19],[1045.41,1036.25],[1045.48,1036.21],[1045.56,1036.27],[1045.62,1036.20],[1045.70,1036.15],[1045.76,1036.19],
[1040.02,1036.01],[1040.06,1035.95],[1040.10,1036.04],[1040.15,1035.97],[1040.19,1036.06],[1040.23,1036.00],[1040.27,1035.96],[1040.32,1036.02],[1040.36,1035.98],[1040.40,1036.04],[1040.44,1035.99],[1040.48,1036.06],[1040.52,1036.00],[1040.57,1035.97],[1040.61,1036.04],[1040.65,1036.00],[1040.69,1035.96],[1040.73,1036.03],[1040.77,1036.07],[1040.81,1036.00],[1040.85,1035.96],[1040.89,1036.05],[1040.93,1036.09],[1040.97,1035.97],[1041.01,1036.04],[1041.05,1035.98],[1041.09,1036.09],[1041.13,1036.02],[1041.17,1035.97],[1041.21,1036.05],[1041.25,1036.10],[1041.29,1035.96],[1041.33,1036.07],[1041.37,1036.03],[1041.41,1035.98],[1041.45,1036.11],[1041.49,1036.04],[1041.53,1035.97],[1041.57,1036.08],[1041.61,1036.02],[1041.65,1036.13],[1041.69,1036.00],[1041.73,1035.96],[1041.77,1036.09],[1041.81,1036.04],[1041.85,1035.98],[1041.89,1036.12],[1041.93,1036.01],[1041.97,1036.07],[1042.01,1035.97],[1042.05,1036.13],[1042.09,1036.05],[1042.13,1035.98],[1042.17,1036.10],[1042.21,1036.02],[1042.25,1036.14],[1042.29,1036.01],[1042.33,1036.08],[1042.37,1035.98],[1042.41,1036.11],[1042.45,1036.04],[1042.49,1035.99],[1042.53,1036.13],[1042.57,1036.02],[1042.61,1036.08],[1042.65,1035.99],[1042.69,1036.12],[1042.73,1036.02],[1042.77,1036.09],[1042.81,1036.00],[1042.85,1036.11],[1042.89,1036.01],[1042.93,1036.08],[1042.97,1035.99],[1043.01,1036.13],[1043.05,1036.03],[1043.09,1036.09],[1043.13,1036.00],[1043.17,1036.11],[1043.21,1036.02],[1043.25,1036.10],[1043.29,1036.01],[1043.33,1036.13],[1043.37,1036.05],[1043.41,1036.00],[1043.45,1036.12],[1043.49,1036.03],[1043.53,1036.09],[1043.57,1036.01],[1043.61,1036.14],[1043.65,1036.04],[1043.69,1036.11],[1043.73,1036.01],[1043.77,1036.08],[1043.81,1036.14],[1043.85,1036.02],[1043.89,1036.10],[1043.93,1036.00],[1043.97,1036.12],[1044.01,1036.05],[1044.05,1036.13],[1044.09,1036.02],[1044.13,1036.10],[1044.17,1036.01],[1044.21,1036.14],[1044.25,1036.05],[1044.29,1036.12],[1044.33,1036.02],[1044.37,1036.10],[1044.41,1036.16],[1044.45,1036.03],[1044.49,1036.12],[1044.53,1036.06],[1044.57,1036.16],[1044.61,1036.09],[1044.65,1036.20],[1044.69,1036.07],[1044.73,1036.17],[1044.77,1036.09],[1044.81,1036.21],[1044.85,1036.11],[1044.89,1036.19],[1044.93,1036.13],[1044.97,1036.21],[1045.01,1036.10],[1045.05,1036.17],[1045.09,1036.14],[1045.13,1036.24],[1045.17,1036.16],[1045.21,1036.10],[1045.25,1036.20],[1045.32,1036.13],[1045.38,1036.15],[1045.44,1036.18],[1045.52,1036.15],[1045.59,1036.23],
[1040.05,1035.91],[1040.13,1035.93],[1040.24,1035.90],[1040.31,1035.97],[1040.40,1035.92],[1040.49,1035.90],[1040.58,1035.94],[1040.68,1035.91],[1040.75,1035.93],[1040.86,1035.90],[1040.98,1035.92],[1041.04,1035.90],[1041.14,1035.92],[1041.24,1035.91],[1041.34,1035.93],[1041.44,1035.92],[1041.54,1035.90],[1041.64,1035.93],[1041.74,1035.91],[1041.84,1035.93],[1041.94,1035.92],[1042.04,1035.92],[1042.14,1035.93],[1042.24,1035.92],[1042.34,1035.94],[1042.44,1035.93],[1042.54,1035.92],[1042.64,1035.94],[1042.74,1035.93],[1042.84,1035.92],[1042.94,1035.94],[1043.04,1035.93],[1043.14,1035.93],[1043.24,1035.94],[1043.34,1035.93],[1043.44,1035.95],[1043.54,1035.94],[1043.64,1035.93],[1043.74,1035.95],[1043.84,1035.94],[1043.94,1035.95],[1044.04,1035.94],[1044.14,1035.95],[1044.24,1035.95],[1044.34,1035.94],[1044.44,1035.96],
[1041.81,1037.14],[1042.02,1037.03],[1042.08,1037.03],[1042.12,1037.00],[1042.17,1036.97],[1042.20,1037.03],[1042.45,1037.03],[1042.55,1037.03],[1042.80,1037.03],[1042.97,1037.03],[1043.16,1037.03],[1043.28,1036.94],[1043.40,1037.03],[1043.45,1037.13],[1043.16,1036.78],[1043.27,1036.69],[1043.68,1036.88],[1043.82,1037.03],[1043.91,1037.05],[1043.93,1037.03],[1044.16,1036.91],[1044.46,1037.03],[1044.73,1036.85],[1044.79,1036.92],[1044.95,1037.03],[1045.14,1037.03],[1045.27,1036.98],[1045.33,1036.91],[1045.39,1036.85],[1045.46,1036.77],[1045.51,1036.68],[1045.57,1036.68],[1045.67,1036.58],[1045.81,1036.47],[1045.96,1036.52],[1045.84,1036.14],[1045.64,1036.26],[1045.46,1036.09],[1045.51,1036.40],[1045.39,1036.56],[1045.39,1036.33],[1042.00,1036.62],[1041.28,1036.40],[1041.81,1036.28],[1042.00,1036.32],[1042.27,1036.38],[1042.44,1036.33],[1042.74,1036.54],[1042.77,1036.42],[1042.59,1036.33],[1043.10,1036.30],[1043.27,1036.33],[1043.54,1036.47],[1043.73,1036.28],[1043.81,1036.28],[1044.14,1036.41],[1044.48,1036.54],[1044.56,1036.60],[1044.53,1036.35],[1044.74,1036.33],[1044.94,1036.47],[1045.03,1036.49],[1045.11,1036.49],[1044.88,1036.30],[1045.21,1036.33],[1044.98,1036.09]];
const pp0105 = [[1033.62,1030.17],[1033.99,1030.24],[1034.07,1030.31],[1034.10,1030.24],[1034.14,1030.15],[1034.53,1030.59],[1034.53,1030.38],[1034.53,1030.15],[1034.53,1030.01],[1034.53,1029.89],[1035.02,1030.22],[1035.16,1030.25],[1035.45,1030.18],[1036.10,1030.25],[1036.37,1030.38],[1036.35,1030.15],[1036.51,1030.31],[1036.58,1030.15],[1036.63,1030.27],[1037.21,1030.24],[1037.40,1030.38],[1037.32,1030.13],[1037.46,1029.94],[1037.80,1030.01],[1037.90,1030.13],[1038.15,1030.13],[1038.25,1030.10],[1038.60,1030.27],[1038.80,1029.99],[1039.40,1030.34],[1039.33,1030.27],[1039.56,1030.13],[1039.81,1030.29],[1039.96,1029.96],[1040.08,1030.13],[1040.20,1030.03],[1040.36,1029.99],[1040.56,1030.41],[1040.63,1030.08],[1040.83,1030.27],[1041.08,1030.27],[1041.32,1030.27],[1041.51,1029.92],[1041.59,1030.36],[1041.62,1029.89],[1041.76,1029.92],[1041.84,1029.89],[1042.00,1030.59],[1042.00,1029.96],[1042.14,1029.94],[1042.27,1029.99],[1042.19,1030.41],[1042.42,1030.41],[1042.77,1030.59],[1043.00,1030.45],[1042.88,1030.27],[1045.48,1030.57],[1045.69,1030.52],[1045.78,1030.38],[1045.48,1030.41],[1045.16,1030.38],[1044.86,1030.55],[1044.83,1030.41],[1044.58,1030.36],[1044.25,1030.41],[1043.91,1030.48],[1043.83,1030.41],[1043.60,1030.48],[1043.70,1030.43],[1043.38,1030.36],[1043.22,1030.41],[1043.01,1030.48],[1042.78,1030.55],[1042.50,1030.41],[1042.20,1030.41],[1042.27,1029.96],[1042.02,1029.96],[1042.12,1029.99],[1041.67,1029.96],[1041.59,1029.92],[1041.45,1030.02],[1041.20,1030.00],[1041.00,1030.05],[1040.75,1030.20],[1042.60,1030.38],[1042.68,1030.30],[1043.12,1030.40],[1043.30,1030.44],[1043.50,1030.42],[1043.75,1030.45],[1044.05,1030.40],[1044.15,1030.44],[1044.40,1030.38],
[1040.44,1030.36],[1040.70,1030.38],[1040.95,1030.34],[1041.15,1030.38],[1041.40,1030.36],[1041.70,1030.38],[1041.85,1030.40],[1042.05,1030.44],[1042.33,1030.40],[1042.90,1030.44],[1043.45,1030.46],[1044.00,1030.44],[1044.32,1030.42],[1044.50,1030.44],[1040.85,1029.98],[1041.30,1029.94],[1041.55,1029.96],[1041.95,1029.92],[1042.18,1029.98]];
const pp0106 = [[1033.62,1030.14],[1033.99,1030.10],[1034.07,1030.18],[1034.10,1030.15],[1034.01,1030.13],[1034.53,1030.13],[1034.53,1030.01],[1034.53,1029.92],[1035.02,1030.21],[1035.17,1030.06],[1035.45,1029.91],[1036.10,1030.13],[1036.35,1030.15],[1036.43,1030.24],[1036.51,1030.22],[1036.59,1030.27],[1036.56,1030.17],[1037.21,1030.29],[1037.39,1030.28],[1037.52,1030.24],[1037.33,1030.13],[1037.46,1029.92],[1037.80,1030.01],[1037.90,1030.34],[1038.15,1030.20],[1038.30,1030.27],[1038.27,1029.99],[1038.45,1030.27],[1038.30,1029.96],[1038.60,1030.13],[1038.70,1030.31],[1038.80,1029.89],[1038.82,1030.15],[1038.87,1030.24],[1039.18,1030.34],[1039.33,1030.20],[1039.33,1029.90],[1039.40,1030.52],[1039.56,1029.98],[1039.65,1030.29],[1039.71,1030.13],[1039.81,1030.36],[1039.86,1030.22],[1039.96,1030.27],[1040.00,1029.92],[1040.15,1030.29],[1040.21,1029.92],[1040.33,1029.85],[1040.26,1030.17],[1040.33,1030.27],[1040.39,1030.36],[1040.43,1030.17],[1040.36,1030.08],[1040.48,1030.27],[1040.64,1030.22],[1040.78,1029.96],[1040.91,1030.27],[1040.91,1029.85],[1040.99,1029.99],[1041.18,1029.85],[1041.29,1029.92],[1041.26,1030.48],[1041.36,1030.17],[1041.46,1030.27],[1041.59,1030.15],[1041.72,1030.24],[1041.79,1030.17],[1041.87,1030.27],[1041.92,1030.13],[1042.00,1030.73],[1041.99,1029.82],[1042.05,1030.22],[1042.15,1030.22],[1042.22,1030.24],[1042.29,1030.17],[1042.39,1030.31],[1042.49,1030.22],[1042.59,1030.36],[1042.77,1030.64],[1042.75,1030.29],[1042.85,1030.15],[1042.98,1030.22],[1043.12,1030.27],[1043.22,1030.31],[1042.62,1030.31],[1043.15,1030.36],[1043.25,1030.31],[1043.38,1030.31],[1043.65,1030.22],[1043.61,1030.34],[1043.91,1030.31],[1043.81,1030.17],[1043.98,1030.22],[1044.18,1030.27],[1044.20,1030.17],[1044.33,1030.20],[1044.48,1030.34],[1044.58,1030.43],[1044.63,1030.27],[1044.80,1030.13],[1044.86,1030.69],[1044.84,1030.29],[1044.96,1030.38],[1045.03,1030.34],[1045.16,1030.27],[1045.47,1030.27],[1045.47,1030.13],[1045.48,1030.04],[1045.69,1030.34],[1045.77,1030.12],[1040.52,1030.10],[1040.70,1030.12],[1040.85,1030.20],[1041.03,1030.18],[1041.10,1030.10],[1041.22,1030.14],[1041.40,1030.05],[1041.52,1030.22],[1041.66,1030.10],[1041.82,1030.20],[1041.96,1030.24],[1042.10,1030.14],[1042.34,1030.22],[1042.44,1030.13],[1042.54,1030.26],[1042.68,1030.20],[1042.92,1030.30],[1043.05,1030.18],[1043.30,1030.22],[1043.45,1030.32],[1043.52,1030.20],[1043.72,1030.28],[1043.86,1030.24],[1044.05,1030.18],[1044.25,1030.30],[1044.40,1030.22],
[1040.24,1030.30],[1040.30,1030.12],[1040.37,1030.22],[1040.41,1030.30],[1040.46,1030.12],[1040.58,1030.18],[1040.96,1030.12],[1041.06,1030.24],[1041.14,1030.20],[1041.24,1030.26],[1041.32,1030.08],[1041.44,1030.16],[1041.49,1030.10],[1041.56,1030.28],[1041.63,1030.18],[1041.70,1030.14],[1041.76,1030.28],[1041.84,1030.12],[1041.90,1030.22],[1041.98,1030.16],[1042.02,1030.28],[1042.08,1030.18],[1042.12,1030.28],[1042.18,1030.14],[1042.25,1030.20],[1042.32,1030.28],[1042.37,1030.16],[1042.42,1030.24],[1042.47,1030.30],[1042.52,1030.18],[1042.57,1030.24],[1042.64,1030.16],[1042.71,1030.26],[1042.80,1030.22],[1042.88,1030.26],[1042.95,1030.30],[1043.02,1030.28],[1043.08,1030.20],[1043.18,1030.26],[1043.28,1030.28],[1043.34,1030.20],[1043.41,1030.26],[1043.56,1030.28],[1043.68,1030.16],[1043.76,1030.24],[1043.84,1030.30],[1043.88,1030.18],[1043.94,1030.26],[1044.10,1030.24]];
const xTicks = {min:1032,max:1048,step:2};
const yTicks = {min:1026,max:1038,step:2};
const seriesNames = ['SD - 01','SD - 02','SD - 03','PP01 - 05','PP01 - 06'];

const font = 'Liberation Sans, Arial, sans-serif';
const plusPath = 'path://M0 5H10M5 0V10';
const crossPath = 'path://M0 0L10 10M10 0L0 10';
const starPath = 'path://M0 0L10 10M10 0L0 10M5 0V10';
const plain = v => String(v);

const chart = echarts.init(document.getElementById('c'), null, {renderer:'canvas'});
const option = {
  animation:false,
  backgroundColor:'#fff',
  grid:{left:120.5,top:20.5,width:1606,height:857},
  xAxis:{type:'value',min:xTicks.min,max:xTicks.max,interval:xTicks.step,
    name:'Pond Elevation (masl)',nameLocation:'middle',nameGap:72,
    nameTextStyle:{fontFamily:font,fontWeight:'bold',fontSize:22.6,color:'#000',padding:[0,118,0,0]},
    axisLine:{show:true,lineStyle:{color:'#000',width:1}},
    axisTick:{show:true,length:6,lineStyle:{color:'#000',width:1}},
    axisLabel:{fontFamily:font,fontSize:22.5,color:'#000',margin:16,formatter:plain,showMinLabel:true,showMaxLabel:true},
    splitLine:{show:false}},
  yAxis:{type:'value',min:yTicks.min,max:yTicks.max,interval:yTicks.step,
    name:'Elevation (masl)',nameLocation:'middle',nameGap:83,
    nameTextStyle:{fontFamily:font,fontWeight:'bold',fontSize:22.6,color:'#000',padding:[0,0,0,42]},
    axisLine:{show:true,lineStyle:{color:'#000',width:1}},
    axisTick:{show:true,length:6,lineStyle:{color:'#000',width:1}},
    axisLabel:{fontFamily:font,fontSize:22.5,color:'#000',margin:20,formatter:plain,showMinLabel:true,showMaxLabel:true},
    minorTick:{show:false,splitNumber:4},
    minorSplitLine:{show:true,lineStyle:{color:'#b4b4b4',width:1.5}},
    splitLine:{show:true,lineStyle:{color:'#000',width:1}}},
  legend:{show:true,left:1062,top:935,orient:'horizontal',padding:[42,0,0,60],itemGap:52,itemWidth:7,itemHeight:7,
    textStyle:{fontFamily:font,fontSize:11,color:'#000'},
    selectedMode:false,
    data:[
      {name:seriesNames[0],icon:'diamond',itemStyle:{color:'#000080',borderColor:'#000080',borderWidth:1}},
      {name:seriesNames[1],icon:'triangle',itemStyle:{color:'#800000',borderColor:'#800000',borderWidth:1}},
      {name:seriesNames[2],icon:plusPath,itemStyle:{color:'none',borderColor:'#008000',borderWidth:2}},
      {name:seriesNames[3],icon:crossPath,itemStyle:{color:'none',borderColor:'#ff00ff',borderWidth:2}},
      {name:seriesNames[4],icon:starPath,itemStyle:{color:'none',borderColor:'#993300',borderWidth:2}}
    ]},
  series:[
    {name:seriesNames[0],type:'scatter',data:sd01,symbol:'diamond',symbolSize:15,itemStyle:{color:'#3366ff',borderColor:'#000080',borderWidth:1.6,opacity:1}},
    {name:seriesNames[1],type:'scatter',data:sd02,symbol:'triangle',symbolSize:15,itemStyle:{color:'#ff0000',borderColor:'#800000',borderWidth:1.3,opacity:1}},
    {name:seriesNames[2],type:'scatter',data:sd03,symbol:plusPath,symbolSize:16,itemStyle:{color:'none',borderColor:'#008000',borderWidth:1.8,opacity:1}},
    {name:seriesNames[3],type:'scatter',data:pp0105,symbol:crossPath,symbolSize:16,itemStyle:{color:'none',borderColor:'#ff00ff',borderWidth:1.8,opacity:1}},
    {name:seriesNames[4],type:'scatter',data:pp0106,symbol:starPath,symbolSize:16,itemStyle:{color:'none',borderColor:'#993300',borderWidth:1.8,opacity:1}}
  ],
  graphic:[
    {type:'line',silent:true,shape:{x1:3,y1:0,x2:3,y2:1057},style:{stroke:'#8c8c8c',lineWidth:2}},
    {type:'line',silent:true,shape:{x1:0,y1:1056,x2:1766,y2:1056},style:{stroke:'#c8c8c8',lineWidth:2}},
    {type:'rect',silent:true,z:1,shape:{x:1067.5,y:940.5,width:601,height:97},style:{fill:'#000',stroke:'#000'}},
    {type:'rect',silent:true,z:1,shape:{x:1062,y:935,width:601,height:97},style:{fill:'#fff',stroke:'#000',lineWidth:2}}
  ]
};
chart.setOption(option);
</script></body></html>
